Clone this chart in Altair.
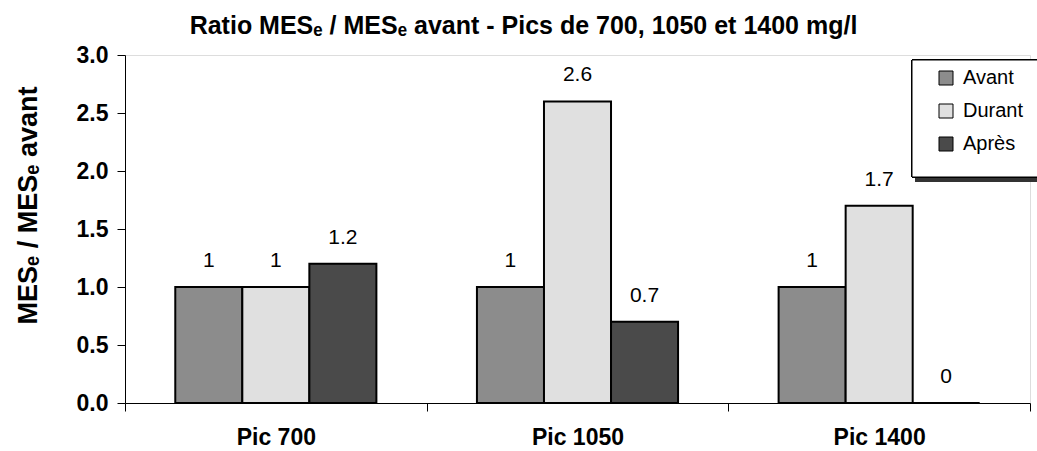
import altair as alt
import pandas as pd

# Ratio of effluent suspended solids to the pre-peak level, per peak load
pics = ["Pic 700", "Pic 1050", "Pic 1400"]
periodes = ["Avant", "Durant", "Après"]
avant = [1.0, 1.0, 1.0]
durant = [1.0, 2.6, 1.7]
apres = [1.2, 0.7, 0.0]

rows = []
for i, pic in enumerate(pics):
    for periode, serie in zip(periodes, [avant, durant, apres]):
        rows.append({"Pic": pic, "Période": periode, "Ratio": serie[i]})
df = pd.DataFrame(rows)

FONT = "Liberation Sans"
W, H = 905, 348

x = alt.X(
    "Pic:N",
    sort=pics,
    scale=alt.Scale(paddingInner=0, paddingOuter=0),
    axis=alt.Axis(
        title=None,
        labelAngle=0,
        labelFont=FONT,
        labelFontSize=23,
        labelFontWeight="bold",
        labelColor="black",
        labelPadding=15,
        tickBand="extent",
        tickSize=8,
        tickColor="black",
        domainColor="black",
    ),
)
y = alt.Y(
    "Ratio:Q",
    scale=alt.Scale(domain=[0, 3]),
    axis=alt.Axis(
        title="MESₑ / MESₑ avant",
        titleFont=FONT,
        titleFontSize=27,
        titleFontWeight="bold",
        titleColor="black",
        titlePadding=34,
        titleY=150,
        values=[0, 0.5, 1, 1.5, 2, 2.5, 3],
        format=".1f",
        labelFont=FONT,
        labelFontSize=23,
        labelFontWeight="bold",
        labelColor="black",
        labelPadding=9,
        tickSize=8,
        tickColor="black",
        domainColor="black",
        grid=False,
    ),
)
color = alt.Color(
    "Période:N",
    sort=periodes,
    scale=alt.Scale(domain=periodes, range=["#8c8c8c", "#e0e0e0", "#4a4a4a"]),
    legend=alt.Legend(
        title=None,
        orient="none",
        legendX=811,
        legendY=13,
        padding=0,
        symbolType="square",
        symbolSize=196,
        symbolStrokeColor="black",
        symbolStrokeWidth=1,
        labelFont=FONT,
        labelFontSize=20,
        labelColor="black",
        labelOffset=7,
        rowPadding=13,
    ),
)

bars = alt.Chart(df).mark_bar(stroke="black", strokeWidth=2).encode(
    x=x,
    xOffset=alt.XOffset(
        "Période:N", sort=periodes, scale=alt.Scale(paddingInner=0, paddingOuter=0.75)
    ),
    y=y,
    color=color,
)

labels = alt.Chart(df).mark_text(
    font=FONT, fontSize=21, color="black", baseline="bottom", dy=-16
).encode(
    x=alt.X("Pic:N", sort=pics),
    xOffset=alt.XOffset("Période:N", sort=periodes),
    y="Ratio:Q",
    text=alt.Text("Ratio:Q", format=".1~f"),
)

# legend frame with its drop shadow
shadow = alt.Chart(df).mark_rect(color="#333333").encode(
    x=alt.value(790), x2=alt.value(930), y=alt.value(10), y2=alt.value(127)
)
frame = alt.Chart(df).mark_rect(fill="white", stroke="black", strokeWidth=1).encode(
    x=alt.value(787), x2=alt.value(925), y=alt.value(5), y2=alt.value(122)
)

chart = (
    alt.layer(bars, labels, shadow, frame)
    .resolve_scale(xOffset="shared")
    .properties(
        width=W,
        height=H,
        autosize=alt.AutoSizeParams(type="none"),
        padding={"left": 125, "top": 55, "right": 7, "bottom": 48},
        title=alt.TitleParams(
            "Ratio MESₑ / MESₑ avant  - Pics de 700, 1050 et 1400 mg/l",
            font=FONT,
            fontSize=25,
            fontWeight="bold",
            color="black",
            anchor="middle",
            dx=-54,
            offset=5,
        ),
    )
    .configure_view(stroke=None)
    .configure(background="white")
)

chart.save("out.html", embed_options={"renderer": "svg", "actions": False})
